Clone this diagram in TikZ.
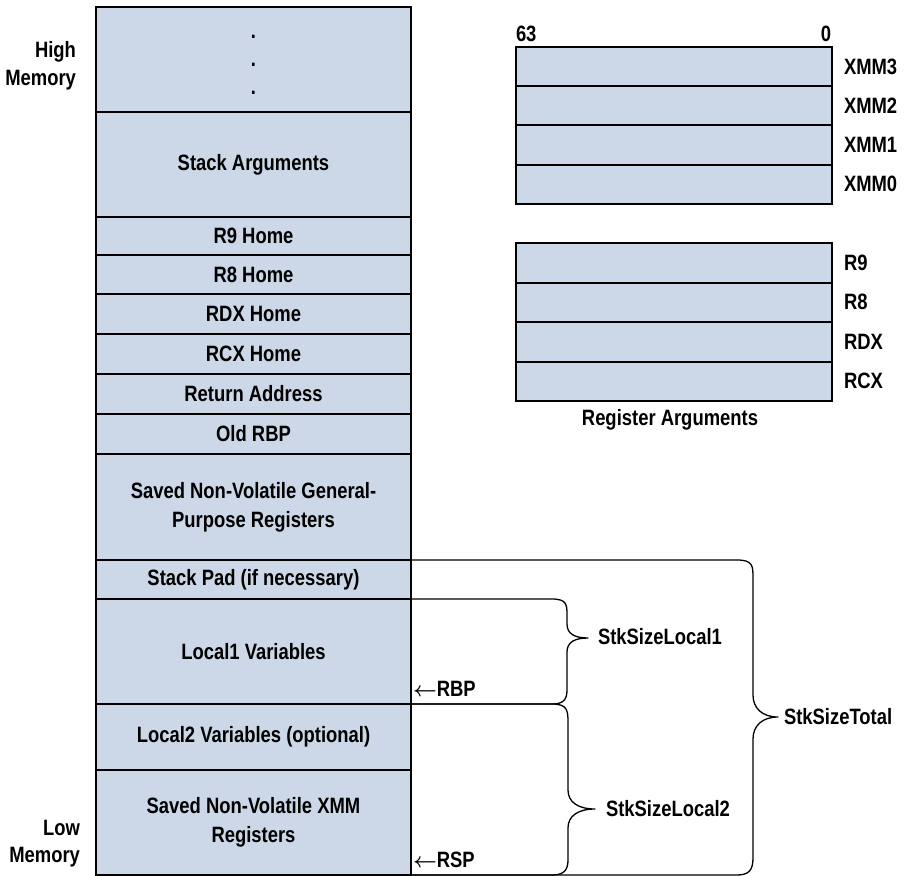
\documentclass[tikz,border=0pt]{standalone}
\usepackage{fontspec}
\setmainfont{Liberation Sans}[FakeStretch=0.83]
\definecolor{cellfill}{RGB}{204,216,232}
\newcommand{\larrow}{\mbox{\boldmath$\leftarrow$}}
\begin{document}
\begin{tikzpicture}[x=1pt,y=-1pt,
  every node/.style={font=\fontsize{22.2}{29}\selectfont\bfseries, inner sep=0pt, outer sep=0pt},
  cell/.style={draw=black, line width=1.2pt, fill=cellfill, minimum width=315pt, anchor=north west, align=center},
  reg/.style={draw=black, line width=1.2pt, fill=cellfill, minimum width=316pt, anchor=north west},
  lbl/.style={anchor=west},
  brace/.style={draw=black, line width=1.3pt, line join=round}]
\useasboundingbox (0,0) rectangle (906,876);
% stack column
\node[cell, minimum height=105pt] (dots) at (96,7) {};
\node (d1) at (253.5,37) {.};
\node (d2) at (253.5,65) {.};
\node (d3) at (253.5,93) {.};
\node[cell, minimum height=105pt] (stackargs) at (96,112) {Stack Arguments};
\node[cell, minimum height=38pt] (r9h) at (96,217) {R9 Home};
\node[cell, minimum height=39pt] (r8h) at (96,255) {R8 Home};
\node[cell, minimum height=40pt] (rdxh) at (96,294) {RDX Home};
\node[cell, minimum height=40pt] (rcxh) at (96,334) {RCX Home};
\node[cell, minimum height=40pt] (ret) at (96,374) {Return Address};
\node[cell, minimum height=40pt] (oldrbp) at (96,414) {Old RBP};
\node[cell, minimum height=106pt] (savedgpr) at (96,454) {Saved Non-Volatile General-\\Purpose Registers};
\node[cell, minimum height=39pt] (pad) at (96,560) {Stack Pad (if necessary)};
\node[cell, minimum height=105pt] (local1) at (96,599) {Local1 Variables};
\node[cell, minimum height=66pt] (local2) at (96,704) {Local2 Variables (optional)};
\node[cell, minimum height=105pt] (xmmsave) at (96,770) {Saved Non-Volatile XMM\\Registers};
% memory labels
\node[anchor=east] (high) at (76,52) {High};
\node[anchor=east] (highm) at (76,80) {Memory};
\node[anchor=east] (low) at (80,828) {Low};
\node[anchor=east] (lowm) at (80,857) {Memory};
% pointers
\node[lbl] (rbp) at (413,689) {\larrow RBP};
\node[lbl] (rsp) at (413,860) {\larrow RSP};
% braces
\draw[brace] (local1.north east) -- (552,599) .. controls (567,599) and (567,605) .. (567,615) -- (567,624)
  .. controls (567,634) and (575,638) .. (588,638) .. controls (575,638) and (567,642) .. (567,652)
  -- (567,690) .. controls (567,700) and (563,704) .. (552,704) -- (local1.south east);
\draw[brace] (local2.north east) -- (552,704) .. controls (567,704) and (568,710) .. (568,722) -- (568,790)
  .. controls (568,802) and (578,809) .. (595,809) .. controls (578,809) and (568,816) .. (568,828)
  -- (568,860) .. controls (568,870) and (564,875) .. (552,875) -- (xmmsave.south east);
\draw[brace] (pad.north east) -- (737,560) .. controls (753,560) and (753,566) .. (753,578) -- (753,695)
  .. controls (753,708) and (762,717) .. (778,717) .. controls (762,717) and (753,726) .. (753,739)
  -- (753,858) .. controls (753,870) and (749,875) .. (737,875) -- (xmmsave.south east);
\node[lbl] (sl1) at (598,637) {StkSizeLocal1};
\node[lbl] (sl2) at (606,809) {StkSizeLocal2};
\node[lbl] (st) at (784,717) {StkSizeTotal};
% XMM registers
\node[anchor=south west] (b63) at (516,42) {63};
\node[anchor=south east] (b0) at (831,42) {0};
\node[reg, minimum height=39pt] (xmm3) at (516,47) {};
\node[reg, minimum height=39pt] (xmm2) at (516,86) {};
\node[reg, minimum height=40pt] (xmm1) at (516,125) {};
\node[reg, minimum height=39pt] (xmm0) at (516,165) {};
\node[lbl] (lx3) at (844,67) {XMM3};
\node[lbl] (lx2) at (844,106) {XMM2};
\node[lbl] (lx1) at (844,145) {XMM1};
\node[lbl] (lx0) at (844,184) {XMM0};
% GP registers
\node[reg, minimum height=40pt] (r9) at (516,243) {};
\node[reg, minimum height=39pt] (r8) at (516,283) {};
\node[reg, minimum height=40pt] (rdx) at (516,322) {};
\node[reg, minimum height=39pt] (rcx) at (516,362) {};
\node[lbl] (lr9) at (844,263) {R9};
\node[lbl] (lr8) at (844,302) {R8};
\node[lbl] (lrdx) at (844,342) {RDX};
\node[lbl] (lrcx) at (844,381) {RCX};
\node (regargs) at (670,420) {Register Arguments};
\end{tikzpicture}
\end{document}
